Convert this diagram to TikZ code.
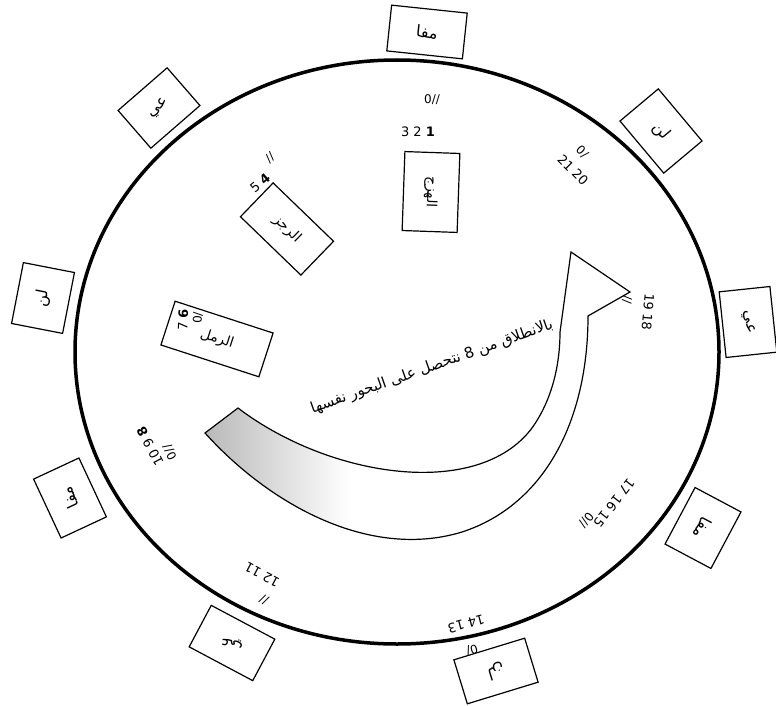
\documentclass[tikz,border=0pt]{standalone}
\usepackage{fontspec}
\setmainfont{DejaVu Sans}
\newfontfamily\arabicfont[Script=Arabic]{DejaVu Sans}
\TeXXeTstate=1
\usetikzlibrary{shadings}
\begin{document}
\begin{tikzpicture}[x=1pt,y=-1pt,
  obox/.style={draw, line width=1.2pt, inner sep=0pt, font=\arabicfont\fontsize{16}{16}\selectfont},
  ibox/.style={draw, line width=1.2pt, inner sep=0pt, font=\arabicfont\fontsize{14}{14}\selectfont},
  numtxt/.style={inner sep=0pt, font=\fontsize{13}{13}\selectfont},
  marktxt/.style={inner sep=0pt, font=\fontsize{12}{12}\selectfont},
]
\useasboundingbox (0,0) rectangle (776,706);
\draw[line width=3.5pt] (397,352) ellipse [x radius=322pt, y radius=292pt];
% outer boxes
\node[obox, rotate=-6,  minimum width=76pt, minimum height=46pt] (o1) at (427,32)  {\beginR مفا\endR};
\node[obox, rotate=-50, minimum width=68pt, minimum height=50pt] (o2) at (661,131) {\beginR لن\endR};
\node[obox, rotate=-84, minimum width=66pt, minimum height=51pt] (o3) at (748,322) {\beginR عي\endR};
\node[obox, rotate=-118,minimum width=64pt, minimum height=52pt] (o4) at (703,528) {\beginR مفا\endR};
\node[obox, rotate=-163,minimum width=74pt, minimum height=46pt] (o5) at (496,671) {\beginR لن\endR};
\node[obox, rotate=152, minimum width=72pt, minimum height=47pt] (o6) at (232,643) {\beginR عي\endR};
\node[obox, rotate=115, minimum width=65pt, minimum height=50pt] (o7) at (70,498)  {\beginR مفا\endR};
\node[obox, rotate=79,  minimum width=62pt, minimum height=52pt] (o8) at (43,298)  {\beginR لن\endR};
\node[obox, rotate=41,  minimum width=65pt, minimum height=50pt] (o9) at (159,108) {\beginR عي\endR};
% inner boxes
\node[ibox, rotate=-92, minimum width=79pt, minimum height=55pt] (i1) at (431,192) {\beginR الهزج\endR};
\node[ibox, rotate=-44, minimum width=84pt, minimum height=47pt] (i2) at (287,229) {\beginR الرجز\endR};
\node[ibox, rotate=-18, minimum width=103pt, minimum height=46pt] (i3) at (217,339) {\beginR الرمل\endR};
% numbers
\node[marktxt] (m1) at (432,100) {0//};
\node[numtxt] (n1) at (418,132) {3 2 \textbf{1}};
\node[marktxt, rotate=40] (m2) at (270,158) {//};
\node[numtxt, rotate=40] (n2) at (260,183) {5 \textbf{4}};
\node[marktxt, rotate=88] (m3) at (198,318) {0/};
\node[numtxt, rotate=88] (n3) at (183,320) {7 \textbf{6}};
\node[marktxt, rotate=118] (m4) at (170,452) {0//};
\node[numtxt, rotate=118] (n4) at (150,446) {10 9 \textbf{8}};
\node[numtxt, rotate=152] (n5) at (262,575) {12 11};
\node[marktxt, rotate=152] (m5) at (264,600) {//};
\node[numtxt, rotate=-165] (n6) at (466,624) {14 13};
\node[marktxt, rotate=-165] (m6) at (472,650) {0/};
\node[numtxt, rotate=-128] (n7) at (614,503) {17 16 15};
\node[marktxt, rotate=-128] (m7) at (586,520) {0//};
\node[numtxt, rotate=-95] (n8) at (648,312) {19 18};
\node[marktxt, rotate=-95] (m8) at (627,300) {//};
\node[numtxt, rotate=-45] (n9) at (573,170) {21 20};
\node[marktxt, rotate=-45] (m9) at (582,152) {0/};
% arrow
\coordinate (ta) at (205,433);
\coordinate (tb) at (238,408);
\coordinate (hl) at (560,332);
\coordinate (hr) at (588,316);
\coordinate (hL) at (571,252);
\coordinate (hR) at (630,292);
\path[fill=white]
  (tb) .. controls (330,478) and (478,500) .. (532,428)
  .. controls (552,400) and (560,365) .. (hl)
  -- (hL) -- (hR) -- (hr)
  .. controls (588,420) and (545,505) .. (462,532)
  .. controls (370,560) and (270,505) .. (ta) -- cycle;
\begin{scope}
\clip (tb) .. controls (330,478) and (478,500) .. (532,428)
  -- (462,532) .. controls (370,560) and (270,505) .. (ta) -- cycle;
\shade[left color=gray!55, right color=white] (205,380) rectangle (350,560);
\fill[white] (350,380) rectangle (600,560);
\end{scope}
\draw[line width=1.2pt]
  (tb) .. controls (330,478) and (478,500) .. (532,428)
  .. controls (552,400) and (560,365) .. (hl)
  -- (hL) -- (hR) -- (hr)
  .. controls (588,420) and (545,505) .. (462,532)
  .. controls (370,560) and (270,505) .. (ta) -- cycle;
\node[inner sep=0pt, rotate=19.4, font=\arabicfont\fontsize{15}{15}\selectfont] (t) at (432,367)
  {\beginR بالانطلاق من \beginL 8\endL{} نتحصل على البحور نفسها\endR};
\end{tikzpicture}
\end{document}
